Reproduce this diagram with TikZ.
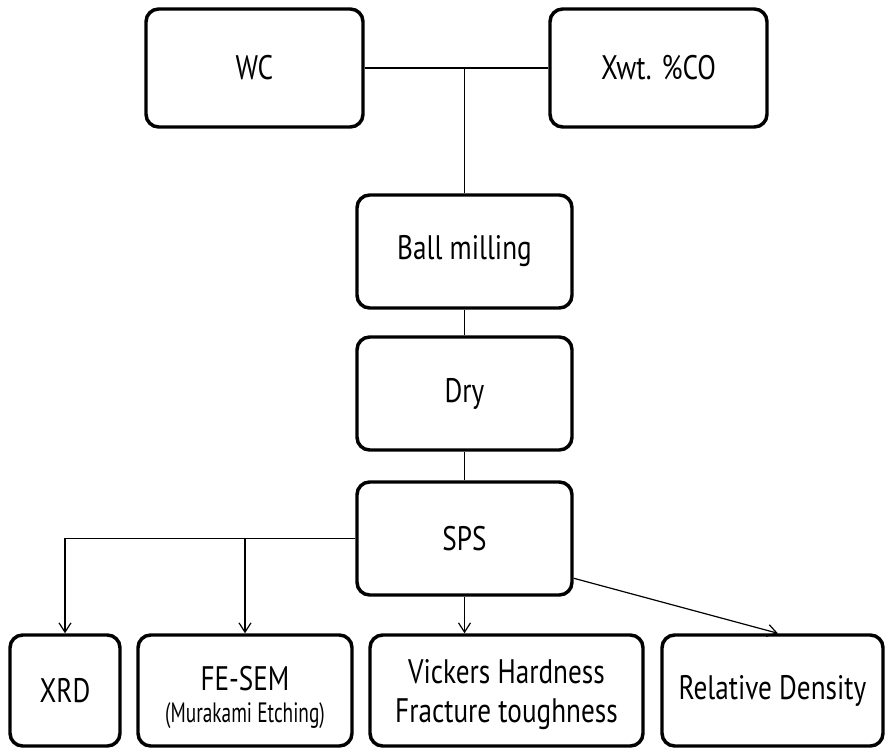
\documentclass[tikz,border=0pt]{standalone}
\usepackage{fontspec}
\setmainfont[FakeStretch=0.8]{PT Sans}
\usetikzlibrary{arrows.meta,positioning}
\tikzset{
  box/.style={draw, line width=2.6pt, rounded corners=9.5pt, align=center,
              inner sep=0pt, font=\fontsize{25.5}{29}\selectfont},
  topbox/.style={box, minimum width=162.75pt, minimum height=88.5pt},
  stepbox/.style={box, minimum width=161.25pt, minimum height=84.75pt},
  resbox/.style={box, minimum height=83.25pt},
  link/.style={line width=0.9pt},
  arr/.style={line width=0.9pt, -{Straight Barb[length=7pt,width=9pt]}}
}

\begin{document}
\begin{tikzpicture}[x=0.75pt,y=-0.75pt]
\useasboundingbox (0,0) rectangle (885,748);
% raw materials
\node[topbox] (wc) at (254.5,68) {WC};
\node[topbox] (co) at (658.5,68) {Xwt. \%CO};
% process
\node[stepbox] (ball) at (464.5,251.5) {Ball milling};
\node[stepbox] (dry)  at (464.5,393.5) {Dry};
\node[stepbox] (sps)  at (464.5,538.5) {SPS};
% analysis
\node[resbox, minimum width=82.5pt]  (xrd)   at (65,690.5)    {XRD};
\node[resbox, minimum width=160.5pt] (fesem) at (245,690.5)
  {\rule{0pt}{29pt}FE-SEM\\[-5pt]{\fontsize{21}{24}\selectfont\addfontfeature{FakeStretch=0.69}(Murakami Etching)}};
\node[resbox, minimum width=204.75pt] (vick) at (506.5,690.5)
  {\rule{0pt}{24pt}Vickers Hardness\\Fracture toughness};
\node[resbox, minimum width=165.75pt] (rel)  at (772.5,690.5) {Relative Density};
\coordinate (mix) at (ball.north |- wc.east);
\draw[link] (wc) -- (co);
\draw[link] (mix) -- (ball);
\draw[link] (ball) -- (dry);
\draw[link] (dry) -- (sps);
\draw[arr] (sps.west) -| (xrd.north);
\draw[arr] (sps.west -| fesem.north) -- (fesem.north);
\draw[arr] (sps.south) -- (sps.south |- vick.north);
\draw[arr] (sps.-20) -- ([xshift=4pt]rel.north);
\end{tikzpicture}
\end{document}
